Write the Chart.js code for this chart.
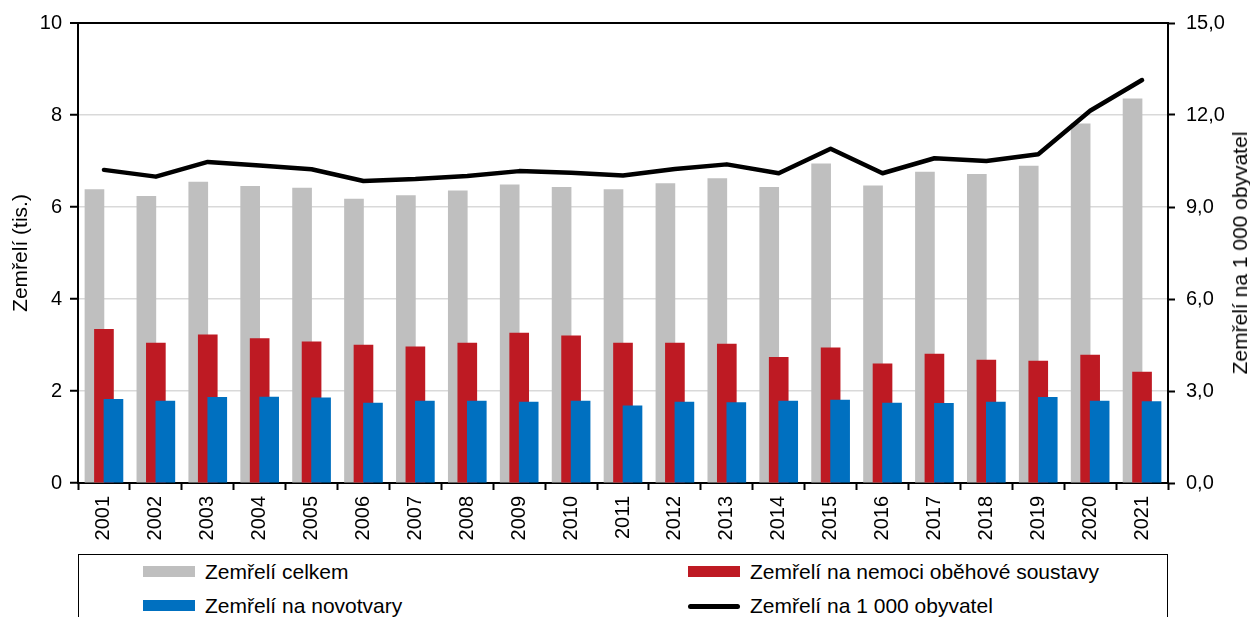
<!DOCTYPE html>
<html lang="cs">
<head>
<meta charset="utf-8">
<title>Zemřelí 2001–2021</title>
<script src="https://cdn.jsdelivr.net/npm/chart.js@4.4.1/dist/chart.umd.min.js"></script>
<style>
    body { margin: 0; width: 1250px; height: 617px; overflow: hidden; background: #fff; font-family: Arial, "Liberation Sans", sans-serif; color: #000; }
    #wrap { position: relative; width: 1250px; height: 617px; }
    #chart { position: absolute; left: 0; top: 0; }
    .rtitle { position: absolute; left: 1240px; top: 253px; transform: translate(-50%, -50%) rotate(-90deg); white-space: nowrap; font-size: 21px; }
    #legend { position: absolute; left: 78px; top: 554px; width: 1090px; height: 90px; border: 1px solid #000; box-sizing: border-box; background: #fff; }
    .item { position: absolute; font-size: 21px; line-height: 24px; white-space: nowrap; }
    .swatch { position: absolute; }
</style>
</head>
<body>
<div id="wrap">
    <canvas id="chart" width="1250" height="617"></canvas>
    <div class="rtitle">Zemřelí na 1 000 obyvatel</div>
    <div id="legend"></div>
</div>
<script>
// roky
var years = ['2001', '2002', '2003', '2004', '2005', '2006', '2007', '2008', '2009', '2010', '2011',
             '2012', '2013', '2014', '2015', '2016', '2017', '2018', '2019', '2020', '2021'];

// zemřelí v tisících
var deathsTotal = [6.38, 6.23, 6.54, 6.45, 6.41, 6.17, 6.25, 6.35, 6.48, 6.43, 6.38,
                   6.51, 6.62, 6.43, 6.94, 6.46, 6.76, 6.71, 6.89, 7.81, 8.35];
var deathsCirculatory = [3.34, 3.04, 3.22, 3.14, 3.07, 3.00, 2.96, 3.04, 3.26, 3.20, 3.04,
                         3.04, 3.02, 2.73, 2.94, 2.59, 2.80, 2.67, 2.65, 2.78, 2.41];
var deathsNeoplasms = [1.82, 1.78, 1.86, 1.87, 1.85, 1.74, 1.78, 1.78, 1.76, 1.78, 1.68,
                       1.76, 1.75, 1.78, 1.80, 1.74, 1.73, 1.76, 1.86, 1.78, 1.77];

// zemřelí na 1 000 obyvatel
var deathRate = [10.21, 9.99, 10.47, 10.35, 10.23, 9.85, 9.91, 10.01, 10.17, 10.12, 10.03,
                 10.24, 10.39, 10.10, 10.90, 10.10, 10.59, 10.50, 10.72, 12.14, 13.14];

var leftTicks = [0, 2, 4, 6, 8, 10];
var rightTicks = [0, 3, 6, 9, 12, 15];

var seriesNames = ['Zemřelí celkem', 'Zemřelí na nemoci oběhové soustavy', 'Zemřelí na novotvary', 'Zemřelí na 1 000 obyvatel'];
var colGrey = '#bfbfbf';
var colRed = '#be1a23';
var colBlue = '#0070c0';
var FONT = { family: 'Arial, "Liberation Sans", sans-serif', size: 20 };
var TITLE_FONT = { family: 'Arial, "Liberation Sans", sans-serif', size: 21 };
var BAR_W = 19;
var SHIFT = 0.183;   // půl šířky sloupce v jednotkách roku (19 px / 51,9 px)

function points(values) {
    return years.map(function (y, i) { return { x: Number(y), y: values[i] }; });
}

// neviditelné lineární osy – posunou sloupce vlevo/vpravo od středu kategorie
function hiddenAxis(shift) {
    var first = Number(years[0]);
    var last = Number(years[years.length - 1]);
    return {
        type: 'linear', position: 'bottom', offset: false,
        min: first - 0.5 + shift, max: last + 0.5 + shift,
        grid: { display: false, drawTicks: false, offset: false },
        border: { display: false },
        ticks: { display: false },
        afterFit: function (scale) { scale.height = 0; }
    };
}

var ctx = document.getElementById('chart').getContext('2d');
new Chart(ctx, {
    type: 'bar',
    data: {
        labels: years,
        datasets: [
            { type: 'bar', label: seriesNames[0], data: points(deathsTotal), backgroundColor: colGrey, xAxisID: 'xg', yAxisID: 'y',
              order: 3, grouped: false, barThickness: BAR_W },
            { type: 'bar', label: seriesNames[1], data: points(deathsCirculatory), backgroundColor: colRed, xAxisID: 'xr', yAxisID: 'y',
              order: 2, grouped: false, barThickness: BAR_W },
            { type: 'bar', label: seriesNames[2], data: points(deathsNeoplasms), backgroundColor: colBlue, xAxisID: 'xb', yAxisID: 'y',
              order: 1, grouped: false, barThickness: BAR_W },
            { type: 'line', label: seriesNames[3], data: deathRate, borderColor: '#000', borderWidth: 4.5, pointRadius: 0,
              tension: 0, borderJoinStyle: 'round', borderCapStyle: 'round', xAxisID: 'x', yAxisID: 'y1', order: 0 }
        ]
    },
    options: {
        responsive: false,
        animation: false,
        devicePixelRatio: 1,
        layout: { padding: { top: 23, left: 0, right: 0, bottom: 0 } },
        plugins: { legend: { display: false }, tooltip: { enabled: false } },
        scales: {
            x: {
                type: 'category',
                offset: true,
                grid: { offset: true, drawOnChartArea: false, tickLength: 7, tickColor: '#000', tickWidth: 2 },
                border: { color: '#000', width: 2 },
                ticks: { color: '#000', font: FONT, maxRotation: 90, minRotation: 90, padding: 6, autoSkip: false },
                afterFit: function (scale) { scale.height = 134; }
            },
            xg: hiddenAxis(SHIFT),
            xr: hiddenAxis(0),
            xb: hiddenAxis(-SHIFT),
            y: {
                position: 'left',
                min: 0, max: 10,
                afterBuildTicks: function (scale) { scale.ticks = leftTicks.map(function (v) { return { value: v }; }); },
                grid: {
                    color: function (c) { return c.tick && c.tick.value === 10 ? '#000' : '#d9d9d9'; },
                    lineWidth: function (c) { return c.tick && c.tick.value === 10 ? 2 : 1.5; },
                    tickColor: '#000', tickWidth: 2, tickLength: 8
                },
                border: { color: '#000', width: 2 },
                ticks: { color: '#000', font: FONT, padding: 8 },
                title: { display: true, text: 'Zemřelí (tis.)', color: '#000', font: TITLE_FONT, padding: { top: 9, bottom: 0 } },
                afterFit: function (scale) { scale.width = 78; }
            },
            y1: {
                position: 'right',
                min: 0, max: 15,
                afterBuildTicks: function (scale) { scale.ticks = rightTicks.map(function (v) { return { value: v }; }); },
                grid: { drawOnChartArea: false, tickColor: '#000', tickWidth: 2, tickLength: 7 },
                border: { color: '#000', width: 2 },
                ticks: {
                    color: '#000', font: FONT, padding: 11,
                    callback: function (v) { return v.toFixed(1).replace('.', ','); }
                },
                afterFit: function (scale) { scale.width = 82; }
            }
        }
    }
});

// legenda ve dvou sloupcích
var legendItems = [
    { name: seriesNames[0], kind: 'box', color: colGrey, col: 0, row: 0 },
    { name: seriesNames[1], kind: 'box', color: colRed, col: 1, row: 0 },
    { name: seriesNames[2], kind: 'box', color: colBlue, col: 0, row: 1 },
    { name: seriesNames[3], kind: 'line', color: '#000', col: 1, row: 1 }
];
var legend = document.getElementById('legend');
legendItems.forEach(function (it) {
    var sx = it.col === 0 ? 64 : 609;
    var cy = it.row === 0 ? 17 : 51;
    var sw = document.createElement('div');
    sw.className = 'swatch';
    sw.style.left = sx + 'px';
    sw.style.width = '52px';
    sw.style.background = it.color;
    if (it.kind === 'box') {
        sw.style.top = (cy - 6) + 'px';
        sw.style.height = '11px';
    } else {
        sw.style.top = (cy - 2) + 'px';
        sw.style.height = '5px';
        sw.style.borderRadius = '3px';
    }
    legend.appendChild(sw);

    var tx = document.createElement('div');
    tx.className = 'item';
    tx.style.left = (sx + 62) + 'px';
    tx.style.top = (cy - 12) + 'px';
    tx.textContent = it.name;
    legend.appendChild(tx);
});
</script>
</body>
</html>
